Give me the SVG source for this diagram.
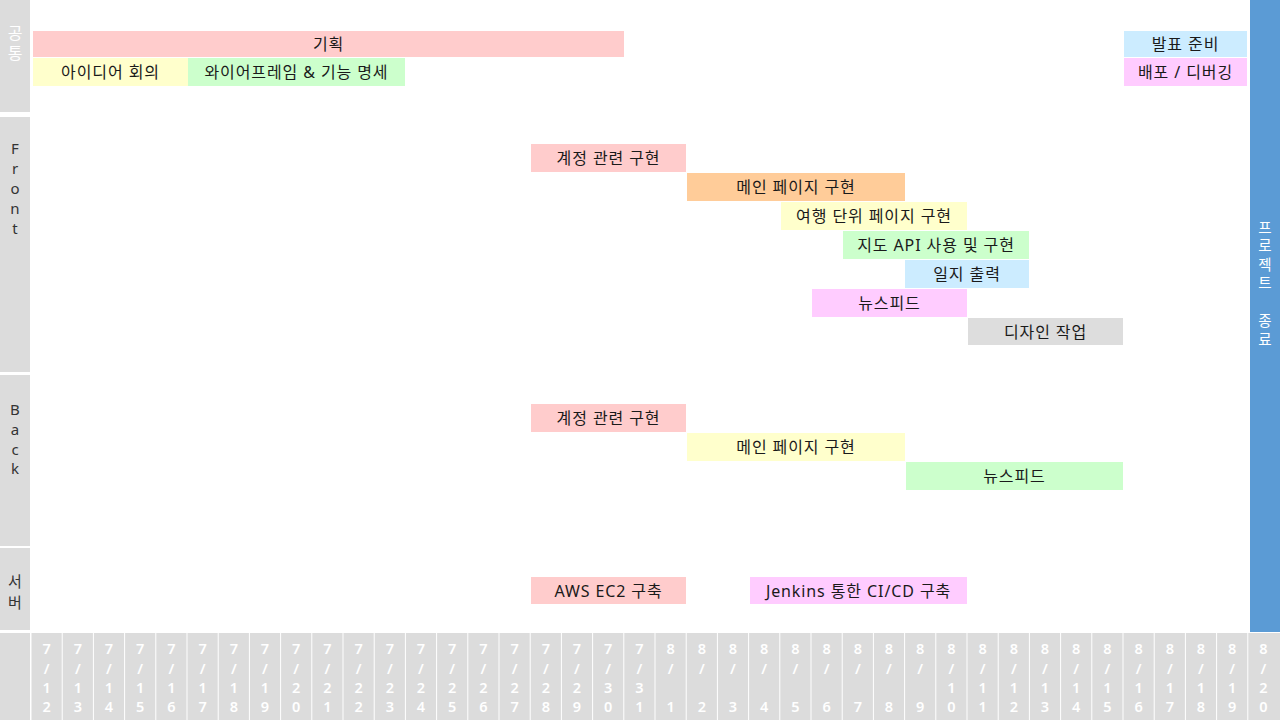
<svg xmlns="http://www.w3.org/2000/svg" width="1280" height="720" viewBox="0 0 1280 720">
<style>
.bg{fill:#ffffff}
.side{fill:#dcdcdc}
.bar text{font-family:"Noto Sans","Noto Sans CJK KR",sans-serif;font-size:16px;letter-spacing:0.9px;fill:#1a1a1a;text-anchor:middle;dominant-baseline:central}
.lbl{font-family:"Noto Sans","Noto Sans CJK KR",sans-serif;font-size:15px;fill:#333333;text-anchor:middle;dominant-baseline:central}
.lblw{font-family:"Noto Sans","Noto Sans CJK KR",sans-serif;font-size:16px;fill:#ffffff;text-anchor:middle;dominant-baseline:central}
.endt{font-family:"Noto Sans","Noto Sans CJK KR",sans-serif;font-size:14.5px;fill:#ffffff;text-anchor:middle;dominant-baseline:central}
.d{font-family:"Noto Sans","Noto Sans CJK KR",sans-serif;font-size:14.5px;font-weight:600;fill:#ffffff;text-anchor:middle;dominant-baseline:central}
.pink{fill:#ffcccc}.yel{fill:#ffffcc}.grn{fill:#ccffcc}.blu{fill:#ccecff}.mag{fill:#ffccff}.org{fill:#ffcc99}.gry{fill:#dddddd}
</style>
<rect class="bg" x="0" y="0" width="1280" height="720"/>

<g id="section-labels">
  <g id="sec-common">
    <rect class="side" x="0" y="0" width="30" height="112"/>
    <text class="lblw" x="15" y="33">공</text>
    <text class="lblw" x="15" y="53">통</text>
  </g>
  <g id="sec-front">
    <rect class="side" x="0" y="117" width="30" height="255"/>
    <text class="lbl" x="15" y="148">F</text>
    <text class="lbl" x="15" y="168">r</text>
    <text class="lbl" x="15" y="188">o</text>
    <text class="lbl" x="15" y="208">n</text>
    <text class="lbl" x="15" y="228">t</text>
  </g>
  <g id="sec-back">
    <rect class="side" x="0" y="375" width="30" height="171"/>
    <text class="lbl" x="15" y="409">B</text>
    <text class="lbl" x="15" y="429">a</text>
    <text class="lbl" x="15" y="448.5">c</text>
    <text class="lbl" x="15" y="468">k</text>
  </g>
  <g id="sec-server">
    <rect class="side" x="0" y="548" width="30" height="82"/>
    <text class="lbl" x="15" y="581">서</text>
    <text class="lbl" x="15" y="602">버</text>
  </g>
</g>

<g id="end-bar">
  <rect x="1250" y="0" width="30" height="632" fill="#5b9bd5"/>
  <text class="endt" x="1265" y="227">프</text>
  <text class="endt" x="1265" y="245">로</text>
  <text class="endt" x="1265" y="263.5">젝</text>
  <text class="endt" x="1265" y="282">트</text>
  <text class="endt" x="1265" y="320">종</text>
  <text class="endt" x="1265" y="338.5">료</text>
</g>

<g id="common-tasks">
  <g id="t-plan" class="bar"><rect class="pink" x="33" y="31" width="591" height="26"/><text x="328.5" y="44">기획</text></g>
  <g id="t-idea" class="bar"><rect class="yel" x="33" y="58" width="155" height="28"/><text x="110.5" y="72">아이디어 회의</text></g>
  <g id="t-wire" class="bar"><rect class="grn" x="188" y="58" width="217" height="28"/><text x="296.5" y="72">와이어프레임 &amp; 기능 명세</text></g>
  <g id="t-present" class="bar"><rect class="blu" x="1124" y="31" width="123" height="26"/><text x="1185.5" y="44">발표 준비</text></g>
  <g id="t-deploy" class="bar"><rect class="mag" x="1124" y="58" width="123" height="28"/><text x="1185.5" y="72">배포 / 디버깅</text></g>
</g>

<g id="front-tasks">
  <g id="f-account" class="bar"><rect class="pink" x="531" y="144" width="155" height="28"/><text x="608.5" y="158">계정 관련 구현</text></g>
  <g id="f-main" class="bar"><rect class="org" x="687" y="173" width="218" height="28"/><text x="796" y="187">메인 페이지 구현</text></g>
  <g id="f-trip" class="bar"><rect class="yel" x="781" y="202" width="186" height="28"/><text x="874" y="216">여행 단위 페이지 구현</text></g>
  <g id="f-map" class="bar"><rect class="grn" x="843" y="231" width="186" height="28"/><text x="936" y="245">지도 API 사용 및 구현</text></g>
  <g id="f-diary" class="bar"><rect class="blu" x="905" y="260" width="124" height="28"/><text x="967" y="274">일지 출력</text></g>
  <g id="f-news" class="bar"><rect class="mag" x="812" y="289" width="155" height="28"/><text x="889.5" y="303">뉴스피드</text></g>
  <g id="f-design" class="bar"><rect class="gry" x="968" y="318" width="155" height="27"/><text x="1045.5" y="331.5">디자인 작업</text></g>
</g>

<g id="back-tasks">
  <g id="b-account" class="bar"><rect class="pink" x="531" y="404" width="155" height="28"/><text x="608.5" y="418">계정 관련 구현</text></g>
  <g id="b-main" class="bar"><rect class="yel" x="687" y="433" width="218" height="28"/><text x="796" y="447">메인 페이지 구현</text></g>
  <g id="b-news" class="bar"><rect class="grn" x="906" y="462" width="217" height="28"/><text x="1014.5" y="476">뉴스피드</text></g>
</g>

<g id="server-tasks">
  <g id="s-aws" class="bar"><rect class="pink" x="531" y="577" width="155" height="27"/><text x="608.5" y="590.5">AWS EC2 구축</text></g>
  <g id="s-ci" class="bar"><rect class="mag" x="750" y="577" width="217" height="27"/><text x="858.5" y="590.5">Jenkins 통한 CI/CD 구축</text></g>
</g>

<g id="connectors"></g>

<g id="date-axis">
<rect class="side" x="0" y="633" width="30" height="87"/>
<rect class="side" x="31.5" y="633" width="30.2" height="87"/><text class="d" x="46.6" y="648">7</text><text class="d" x="46.6" y="668">/</text><text class="d" x="46.6" y="687">1</text><text class="d" x="46.6" y="706">2</text>
<rect class="side" x="62.7" y="633" width="30.2" height="87"/><text class="d" x="77.8" y="648">7</text><text class="d" x="77.8" y="668">/</text><text class="d" x="77.8" y="687">1</text><text class="d" x="77.8" y="706">3</text>
<rect class="side" x="93.9" y="633" width="30.2" height="87"/><text class="d" x="109" y="648">7</text><text class="d" x="109" y="668">/</text><text class="d" x="109" y="687">1</text><text class="d" x="109" y="706">4</text>
<rect class="side" x="125.1" y="633" width="30.2" height="87"/><text class="d" x="140.2" y="648">7</text><text class="d" x="140.2" y="668">/</text><text class="d" x="140.2" y="687">1</text><text class="d" x="140.2" y="706">5</text>
<rect class="side" x="156.3" y="633" width="30.2" height="87"/><text class="d" x="171.4" y="648">7</text><text class="d" x="171.4" y="668">/</text><text class="d" x="171.4" y="687">1</text><text class="d" x="171.4" y="706">6</text>
<rect class="side" x="187.5" y="633" width="30.2" height="87"/><text class="d" x="202.6" y="648">7</text><text class="d" x="202.6" y="668">/</text><text class="d" x="202.6" y="687">1</text><text class="d" x="202.6" y="706">7</text>
<rect class="side" x="218.7" y="633" width="30.2" height="87"/><text class="d" x="233.8" y="648">7</text><text class="d" x="233.8" y="668">/</text><text class="d" x="233.8" y="687">1</text><text class="d" x="233.8" y="706">8</text>
<rect class="side" x="249.9" y="633" width="30.2" height="87"/><text class="d" x="265" y="648">7</text><text class="d" x="265" y="668">/</text><text class="d" x="265" y="687">1</text><text class="d" x="265" y="706">9</text>
<rect class="side" x="281.1" y="633" width="30.2" height="87"/><text class="d" x="296.2" y="648">7</text><text class="d" x="296.2" y="668">/</text><text class="d" x="296.2" y="687">2</text><text class="d" x="296.2" y="706">0</text>
<rect class="side" x="312.3" y="633" width="30.2" height="87"/><text class="d" x="327.4" y="648">7</text><text class="d" x="327.4" y="668">/</text><text class="d" x="327.4" y="687">2</text><text class="d" x="327.4" y="706">1</text>
<rect class="side" x="343.5" y="633" width="30.2" height="87"/><text class="d" x="358.6" y="648">7</text><text class="d" x="358.6" y="668">/</text><text class="d" x="358.6" y="687">2</text><text class="d" x="358.6" y="706">2</text>
<rect class="side" x="374.7" y="633" width="30.2" height="87"/><text class="d" x="389.8" y="648">7</text><text class="d" x="389.8" y="668">/</text><text class="d" x="389.8" y="687">2</text><text class="d" x="389.8" y="706">3</text>
<rect class="side" x="405.9" y="633" width="30.2" height="87"/><text class="d" x="421" y="648">7</text><text class="d" x="421" y="668">/</text><text class="d" x="421" y="687">2</text><text class="d" x="421" y="706">4</text>
<rect class="side" x="437.1" y="633" width="30.2" height="87"/><text class="d" x="452.2" y="648">7</text><text class="d" x="452.2" y="668">/</text><text class="d" x="452.2" y="687">2</text><text class="d" x="452.2" y="706">5</text>
<rect class="side" x="468.3" y="633" width="30.2" height="87"/><text class="d" x="483.4" y="648">7</text><text class="d" x="483.4" y="668">/</text><text class="d" x="483.4" y="687">2</text><text class="d" x="483.4" y="706">6</text>
<rect class="side" x="499.5" y="633" width="30.2" height="87"/><text class="d" x="514.6" y="648">7</text><text class="d" x="514.6" y="668">/</text><text class="d" x="514.6" y="687">2</text><text class="d" x="514.6" y="706">7</text>
<rect class="side" x="530.7" y="633" width="30.2" height="87"/><text class="d" x="545.8" y="648">7</text><text class="d" x="545.8" y="668">/</text><text class="d" x="545.8" y="687">2</text><text class="d" x="545.8" y="706">8</text>
<rect class="side" x="561.9" y="633" width="30.2" height="87"/><text class="d" x="577" y="648">7</text><text class="d" x="577" y="668">/</text><text class="d" x="577" y="687">2</text><text class="d" x="577" y="706">9</text>
<rect class="side" x="593.1" y="633" width="30.2" height="87"/><text class="d" x="608.2" y="648">7</text><text class="d" x="608.2" y="668">/</text><text class="d" x="608.2" y="687">3</text><text class="d" x="608.2" y="706">0</text>
<rect class="side" x="624.3" y="633" width="30.2" height="87"/><text class="d" x="639.4" y="648">7</text><text class="d" x="639.4" y="668">/</text><text class="d" x="639.4" y="687">3</text><text class="d" x="639.4" y="706">1</text>
<rect class="side" x="655.5" y="633" width="30.2" height="87"/><text class="d" x="670.6" y="648">8</text><text class="d" x="670.6" y="668">/</text><text class="d" x="670.6" y="706">1</text>
<rect class="side" x="686.7" y="633" width="30.2" height="87"/><text class="d" x="701.8" y="648">8</text><text class="d" x="701.8" y="668">/</text><text class="d" x="701.8" y="706">2</text>
<rect class="side" x="717.9" y="633" width="30.2" height="87"/><text class="d" x="733" y="648">8</text><text class="d" x="733" y="668">/</text><text class="d" x="733" y="706">3</text>
<rect class="side" x="749.1" y="633" width="30.2" height="87"/><text class="d" x="764.2" y="648">8</text><text class="d" x="764.2" y="668">/</text><text class="d" x="764.2" y="706">4</text>
<rect class="side" x="780.3" y="633" width="30.2" height="87"/><text class="d" x="795.4" y="648">8</text><text class="d" x="795.4" y="668">/</text><text class="d" x="795.4" y="706">5</text>
<rect class="side" x="811.5" y="633" width="30.2" height="87"/><text class="d" x="826.6" y="648">8</text><text class="d" x="826.6" y="668">/</text><text class="d" x="826.6" y="706">6</text>
<rect class="side" x="842.7" y="633" width="30.2" height="87"/><text class="d" x="857.8" y="648">8</text><text class="d" x="857.8" y="668">/</text><text class="d" x="857.8" y="706">7</text>
<rect class="side" x="873.9" y="633" width="30.2" height="87"/><text class="d" x="889" y="648">8</text><text class="d" x="889" y="668">/</text><text class="d" x="889" y="706">8</text>
<rect class="side" x="905.1" y="633" width="30.2" height="87"/><text class="d" x="920.2" y="648">8</text><text class="d" x="920.2" y="668">/</text><text class="d" x="920.2" y="706">9</text>
<rect class="side" x="936.3" y="633" width="30.2" height="87"/><text class="d" x="951.4" y="648">8</text><text class="d" x="951.4" y="668">/</text><text class="d" x="951.4" y="687">1</text><text class="d" x="951.4" y="706">0</text>
<rect class="side" x="967.5" y="633" width="30.2" height="87"/><text class="d" x="982.6" y="648">8</text><text class="d" x="982.6" y="668">/</text><text class="d" x="982.6" y="687">1</text><text class="d" x="982.6" y="706">1</text>
<rect class="side" x="998.7" y="633" width="30.2" height="87"/><text class="d" x="1013.8" y="648">8</text><text class="d" x="1013.8" y="668">/</text><text class="d" x="1013.8" y="687">1</text><text class="d" x="1013.8" y="706">2</text>
<rect class="side" x="1029.9" y="633" width="30.2" height="87"/><text class="d" x="1045" y="648">8</text><text class="d" x="1045" y="668">/</text><text class="d" x="1045" y="687">1</text><text class="d" x="1045" y="706">3</text>
<rect class="side" x="1061.1" y="633" width="30.2" height="87"/><text class="d" x="1076.2" y="648">8</text><text class="d" x="1076.2" y="668">/</text><text class="d" x="1076.2" y="687">1</text><text class="d" x="1076.2" y="706">4</text>
<rect class="side" x="1092.3" y="633" width="30.2" height="87"/><text class="d" x="1107.4" y="648">8</text><text class="d" x="1107.4" y="668">/</text><text class="d" x="1107.4" y="687">1</text><text class="d" x="1107.4" y="706">5</text>
<rect class="side" x="1123.5" y="633" width="30.2" height="87"/><text class="d" x="1138.6" y="648">8</text><text class="d" x="1138.6" y="668">/</text><text class="d" x="1138.6" y="687">1</text><text class="d" x="1138.6" y="706">6</text>
<rect class="side" x="1154.7" y="633" width="30.2" height="87"/><text class="d" x="1169.8" y="648">8</text><text class="d" x="1169.8" y="668">/</text><text class="d" x="1169.8" y="687">1</text><text class="d" x="1169.8" y="706">7</text>
<rect class="side" x="1185.9" y="633" width="30.2" height="87"/><text class="d" x="1201" y="648">8</text><text class="d" x="1201" y="668">/</text><text class="d" x="1201" y="687">1</text><text class="d" x="1201" y="706">8</text>
<rect class="side" x="1217.1" y="633" width="30.2" height="87"/><text class="d" x="1232.2" y="648">8</text><text class="d" x="1232.2" y="668">/</text><text class="d" x="1232.2" y="687">1</text><text class="d" x="1232.2" y="706">9</text>
<rect class="side" x="1248.3" y="633" width="31.7" height="87"/><text class="d" x="1263.5" y="648">8</text><text class="d" x="1263.5" y="668">/</text><text class="d" x="1263.5" y="687">2</text><text class="d" x="1263.5" y="706">0</text>
</g>
</svg>
